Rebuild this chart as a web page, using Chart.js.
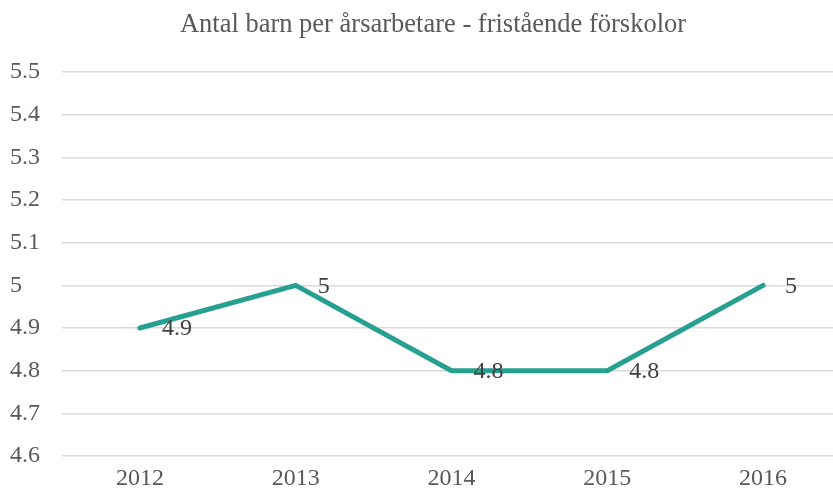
<!DOCTYPE html>
<html>
<head>
<meta charset="utf-8">
<script src="https://cdn.jsdelivr.net/npm/chart.js@4"></script>
<style>
    html, body { margin: 0; padding: 0; background: #fff; overflow: hidden; }
    #wrap { width: 866px; height: 495px; }
</style>
</head>
<body>
<div id="wrap"><canvas id="chart"></canvas></div>
<script>
'use strict';

// данные графика
const chartTitle = 'Antal barn per årsarbetare - fristående förskolor';
const years = ['2012', '2013', '2014', '2015', '2016'];
const childrenPerEmployee = [4.9, 5.0, 4.8, 4.8, 5.0];
const valueLabels = ['4.9', '5', '4.8', '4.8', '5'];
const yTicks = [4.6, 4.7, 4.8, 4.9, 5.0, 5.1, 5.2, 5.3, 5.4, 5.5];

const serif = '"Liberation Serif", "Times New Roman", serif';

// заголовок по центру всей картинки, а не области графика
const titlePlugin = {
    id: 'centerTitle',
    afterDraw(chart) {
        const ctx = chart.ctx;
        ctx.save();
        ctx.font = '26.5px ' + serif;
        ctx.fillStyle = '#595959';
        ctx.textAlign = 'center';
        ctx.textBaseline = 'alphabetic';
        ctx.fillText(chartTitle, 433, 32);
        ctx.restore();
    },
};

// подписи значений справа от точки, как в Excel
const valueLabelPlugin = {
    id: 'valueLabels',
    afterDatasetsDraw(chart) {
        const ctx = chart.ctx;
        const meta = chart.getDatasetMeta(0);
        ctx.save();
        ctx.font = '24px ' + serif;
        ctx.fillStyle = '#404040';
        ctx.textAlign = 'left';
        ctx.textBaseline = 'middle';
        meta.data.forEach((pt, i) => {
            ctx.fillText(valueLabels[i], pt.x + 22, pt.y + 1);
        });
        ctx.restore();
    },
};

const ctx = document.getElementById('chart').getContext('2d');
new Chart(ctx, {
    type: 'line',
    data: {
        labels: years,
        datasets: [
            {
                data: childrenPerEmployee,
                borderColor: '#26A091',
                borderWidth: 5,
                borderCapStyle: 'round',
                borderJoinStyle: 'miter',
                pointRadius: 0,
                tension: 0,
            },
        ],
    },
    options: {
        responsive: true,
        maintainAspectRatio: false,
        animation: false,
        layout: { padding: { left: 10, right: 25, top: 72, bottom: 0 } },
        plugins: {
            legend: { display: false },
            tooltip: { enabled: false },
            title: { display: false },
        },
        scales: {
            x: {
                offset: true,
                grid: { display: false },
                border: { display: false },
                afterFit(scale) {
                    scale.height = 39;
                },
                ticks: {
                    color: '#595959',
                    font: { family: serif, size: 24 },
                    padding: 0,
                    maxRotation: 0,
                },
            },
            y: {
                min: 4.6,
                max: 5.5,
                afterBuildTicks(scale) {
                    scale.ticks = yTicks.map((v) => ({ value: v }));
                },
                afterFit(scale) {
                    scale.width = 52;
                },
                grid: { color: '#d9d9d9', lineWidth: 1.5, drawTicks: false },
                border: { display: false },
                ticks: {
                    color: '#595959',
                    font: { family: serif, size: 24 },
                    crossAlign: 'far',
                    padding: 0,
                    callback: (v) => String(Math.round(v * 10) / 10),
                },
            },
        },
    },
    plugins: [valueLabelPlugin, titlePlugin],
});
</script>
</body>
</html>
